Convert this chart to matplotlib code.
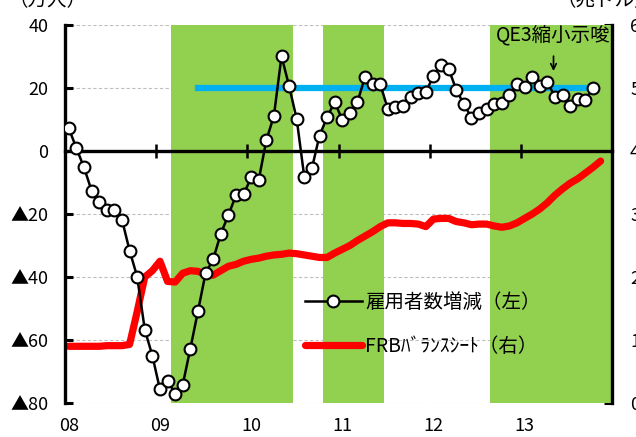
import matplotlib
matplotlib.use("Agg")
import matplotlib.pyplot as plt
from matplotlib.lines import Line2D

plt.rcParams['font.family'] = ['Noto Sans CJK JP', 'DejaVu Sans']

# Data (monthly, Jan 2008 = month 0)
employment = [7.2, 0.9, -5.2, -12.6, -16.2, -18.8, -18.8, -21.8, -31.6, -39.9,
              -56.7, -65.0, -75.7, -72.9, -77.1, -74.2, -62.7, -50.9, -38.8, -34.4,
              -26.3, -20.4, -14.1, -13.8, -8.4, -9.2, 3.4, 11.2, 30.1, 20.6,
              10.1, -8.3, -5.5, 4.9, 10.7, 15.6, 9.8, 12.0, 15.6, 23.6,
              21.2, 21.2, 13.2, 14.1, 14.3, 17.0, 18.3, 18.8, 23.8, 27.3,
              26.1, 19.4, 14.9, 10.6, 12.2, 13.4, 14.9, 15.3, 17.8, 21.2,
              20.4, 23.4, 20.6, 22.0, 17.0, 17.8, 14.3, 16.4, 16.2, 20.1]
balance = [0.90, 0.90, 0.90, 0.90, 0.90, 0.91, 0.91, 0.91, 0.93, 1.45,
           2.00, 2.10, 2.25, 1.93, 1.92, 2.06, 2.10, 2.09, 2.04, 2.03,
           2.10, 2.17, 2.20, 2.25, 2.28, 2.30, 2.33, 2.35, 2.36, 2.38,
           2.37, 2.35, 2.33, 2.31, 2.31, 2.38, 2.44, 2.50, 2.58, 2.65,
           2.72, 2.80, 2.86, 2.86, 2.85, 2.85, 2.84, 2.80, 2.92, 2.93,
           2.93, 2.88, 2.86, 2.83, 2.84, 2.84, 2.81, 2.79, 2.81, 2.86,
           2.93, 3.00, 3.08, 3.18, 3.30, 3.40, 3.49, 3.56, 3.65, 3.74, 3.84]
qe_periods = [(14, 30), (34, 42), (56, 72)]   # QE1, QE2, QE3 (month index)
avg_start, avg_end, avg_level = 17, 69, 20
taper_month = 64
year_labels = ['08', '09', '10', '11', '12', '13']

fig = plt.figure(figsize=(6.36, 4.37), dpi=100)
ax = fig.add_axes([65/636, 1 - 403/437, 547/636, 378/437])
ax2 = ax.twinx()
ax.set_zorder(ax2.get_zorder() + 1)
ax.patch.set_visible(False)

fs = 13
fs_big = 14

# right axis: grid, shading, balance sheet
ax2.set_ylim(0, 6)
ax2.set_yticks(range(0, 7))
ax2.yaxis.grid(True, color='#BFBFBF', linestyle=(0, (3, 2)), linewidth=0.8, zorder=0)
ax2.set_axisbelow(True)
for s, e in qe_periods:
    ax2.axvspan(s, e, color='#92D050', lw=0, zorder=1)
x_bal = [i + 0.5 for i in range(len(balance))]
ax2.plot(x_bal, balance, color='red', lw=5.2, solid_capstyle='round', zorder=3)

# left axis: employment
ax.set_xlim(0, 72)
ax.set_ylim(-80, 40)
ax.set_yticks(range(-80, 41, 20))
ax.set_yticklabels(['▲80', '▲60', '▲40', '▲20', '0', '20', '40'])
ax.plot([avg_start + 0.5, avg_end + 0.5], [avg_level, avg_level], color='#00B0F0', lw=4.5, zorder=2)
x_emp = [i + 0.5 for i in range(len(employment))]
ax.plot(x_emp, employment, color='black', lw=1.8, marker='o', ms=8.5,
        mfc='white', mec='black', mew=1.5, zorder=4)

# spines and ticks
for a in (ax, ax2):
    a.spines['top'].set_visible(False)
    a.spines['left'].set_visible(False)
    a.spines['right'].set_visible(False)
ax2.spines['bottom'].set_visible(False)
ax.spines['left'].set_visible(True)
ax.spines['left'].set_linewidth(2.4)
ax2.spines['right'].set_visible(True)
ax2.spines['right'].set_linewidth(2.4)
ax.spines['bottom'].set_position(('data', 0))
ax.spines['bottom'].set_linewidth(2.4)
ax.set_xticks(range(0, 73, 12))
ax.tick_params(axis='x', direction='inout', length=10, width=1.8, labelbottom=False)
ax.tick_params(axis='y', direction='in', length=6, width=2.2, labelsize=fs, pad=12)
ax2.tick_params(axis='y', direction='in', length=6, width=2.2, labelsize=fs, pad=13)

for k, lab in enumerate(year_labels):
    ax.text(12 * k + 0.5, -0.06, lab, transform=ax.get_xaxis_transform(),
            ha='center', va='center', fontsize=fs)

# unit labels
fig.text(48/636, 1 - 1/437, '（万人）', ha='center', va='center', fontsize=fs_big)
fig.text(557/636, 1 - 1/437, '（兆ドル）', ha='left', va='center', fontsize=fs_big)

# taper annotation
ax.text(taper_month + 0.3, 36.8, 'QE3縮小示唆', ha='center', va='center', fontsize=fs_big)
ax.annotate('', xy=(taper_month + 0.3, 24.5), xytext=(taper_month + 0.3, 31),
            arrowprops=dict(arrowstyle='->', color='black', lw=1.2))

handles = [Line2D([], [], color='black', lw=1.8, marker='o', ms=8.5, mfc='white', mec='black', mew=1.5),
           Line2D([], [], color='red', lw=5.2, solid_capstyle='round')]
ax.legend(handles, ['雇用者数増減（左）', 'FRBﾊﾞﾗﾝｽｼｰﾄ（右）'], loc='upper left',
          bbox_to_anchor=(0.439, 0.294), frameon=False, fontsize=fs_big,
          handlelength=2.9, handletextpad=0.2, labelspacing=1.2, borderpad=0, borderaxespad=0)

fig.savefig('out.png', dpi=100)
